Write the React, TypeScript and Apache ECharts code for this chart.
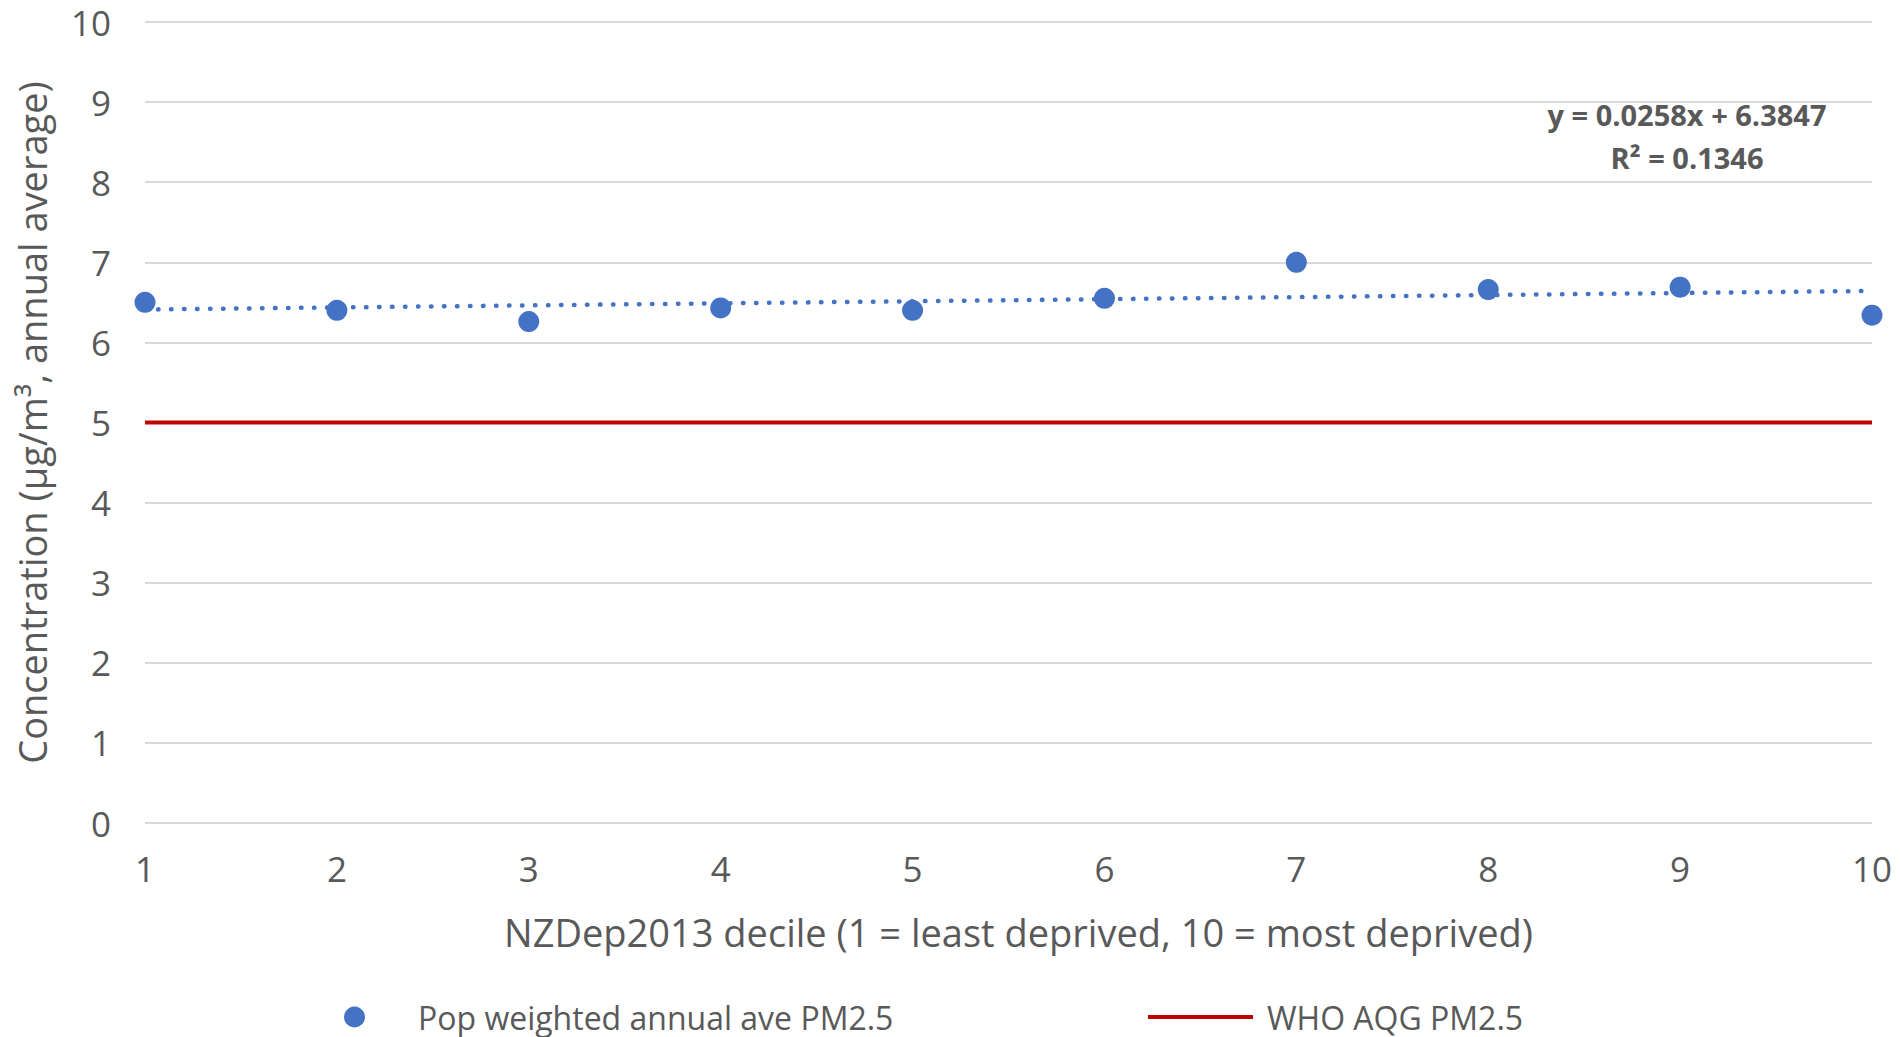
import React, { useEffect, useRef } from "react";
import * as echarts from "echarts";

// NZDep2013 deciles and population-weighted annual average PM2.5 (µg/m³)
const deciles = [1, 2, 3, 4, 5, 6, 7, 8, 9, 10];
const pm25 = [6.5, 6.4, 6.26, 6.43, 6.4, 6.55, 7.0, 6.66, 6.69, 6.34];

// WHO air quality guideline for annual PM2.5
const whoGuideline = 5;

// Linear trend fitted to the decile values
const trendSlope = 0.0258;
const trendIntercept = 6.3847;
const trendR2 = 0.1346;

const yTicks = { min: 0, max: 10, interval: 1 };
const xTicks = { min: 1, max: 10, interval: 1 };

const FONT = "'Open Sans', 'Noto Sans', sans-serif";
const TEXT = "#595959";

export default function App() {
  const ref = useRef<HTMLDivElement>(null);

  useEffect(() => {
    if (!ref.current) return;
    const chart = echarts.init(ref.current, undefined, { renderer: "svg" });

    const scatterData = deciles.map((d, i) => [d, pm25[i]]);
    const whoData = [
      [xTicks.min, whoGuideline],
      [xTicks.max, whoGuideline],
    ];
    const trendData = [xTicks.min, xTicks.max].map((x) => [
      x,
      trendIntercept + trendSlope * x,
    ]);

    chart.setOption({
      animation: false,
      backgroundColor: "#ffffff",
      textStyle: { fontFamily: FONT, color: TEXT },
      grid: { left: 145, right: 28, top: 22, bottom: 214, containLabel: false },
      xAxis: {
        type: "value",
        min: xTicks.min,
        max: xTicks.max,
        interval: xTicks.interval,
        name: "NZDep2013 decile (1 = least deprived, 10 = most deprived)",
        nameLocation: "middle",
        nameGap: 90,
        nameTextStyle: {
          fontSize: 38,
          color: TEXT,
          fontFamily: FONT,
          padding: [0, 0, 0, 20],
        },
        axisLine: { show: false },
        axisTick: { show: false },
        splitLine: { show: false },
        axisLabel: { fontSize: 35, color: TEXT, margin: 28, fontFamily: FONT },
      },
      yAxis: {
        type: "value",
        min: yTicks.min,
        max: yTicks.max,
        interval: yTicks.interval,
        name: "Concentration (µg/m³, annual average)",
        nameLocation: "middle",
        nameGap: 94,
        nameTextStyle: { fontSize: 38, color: TEXT, fontFamily: FONT },
        axisLine: { show: false },
        axisTick: { show: false },
        splitLine: { show: true, lineStyle: { color: "#d9d9d9", width: 2 } },
        axisLabel: { fontSize: 35, color: TEXT, margin: 34, fontFamily: FONT },
      },
      legend: [
        {
          data: [{ name: "Pop weighted annual ave PM2.5", icon: "circle" }],
          left: 344,
          top: 1001,
          padding: 0,
          itemWidth: 21,
          itemHeight: 21,
          textStyle: {
            fontSize: 32,
            lineHeight: 32,
            color: TEXT,
            fontFamily: FONT,
            padding: [0, 0, 0, 48],
          },
        },
        {
          data: [{ name: "WHO AQG PM2.5", icon: "rect" }],
          left: 1148,
          top: 1001,
          padding: 0,
          itemWidth: 105,
          itemHeight: 4,
          textStyle: {
            fontSize: 32,
            lineHeight: 32,
            color: TEXT,
            fontFamily: FONT,
            padding: [0, 0, 0, 9],
          },
        },
      ],
      graphic: [
        {
          type: "text",
          x: 1687,
          y: 93,
          style: {
            text: `y = ${trendSlope}x + ${trendIntercept}\nR² = ${trendR2}`,
            fontFamily: FONT,
            fontWeight: "bold",
            fontSize: 29,
            fill: TEXT,
            lineHeight: 43,
            align: "center",
          },
        },
      ],
      series: [
        {
          name: "WHO AQG PM2.5",
          type: "line",
          data: whoData,
          symbol: "none",
          lineStyle: { color: "#c00000", width: 4 },
          itemStyle: { color: "#c00000" },
          z: 2,
        },
        {
          name: "Linear trend",
          type: "line",
          data: trendData,
          symbol: "none",
          lineStyle: { color: "#4472c4", width: 4.5, type: [0.5, 12.5], cap: "round" },
          z: 3,
        },
        {
          name: "Pop weighted annual ave PM2.5",
          type: "scatter",
          data: scatterData,
          symbolSize: 21,
          itemStyle: { color: "#4472c4", opacity: 1 },
          z: 4,
        },
      ],
    });

    return () => chart.dispose();
  }, []);

  return (
    <div
      ref={ref}
      style={{ position: "fixed", left: 0, top: 0, width: 1900, height: 1037 }}
    />
  );
}
